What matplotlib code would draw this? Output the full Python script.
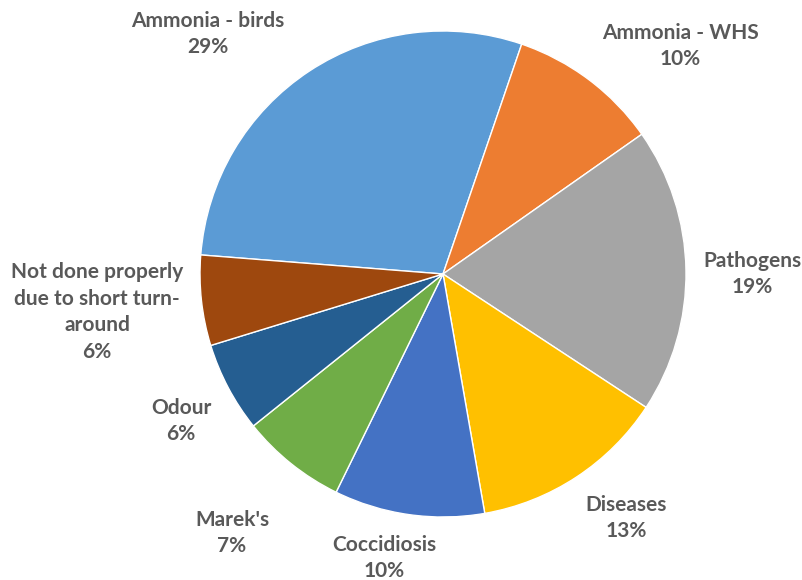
import matplotlib
matplotlib.use("Agg")
import matplotlib.pyplot as plt

categories = ["Ammonia - birds", "Ammonia - WHS", "Pathogens", "Diseases",
              "Coccidiosis", "Marek's", "Odour",
              "Not done properly due to short turn-around"]
values = [29, 10, 19, 13, 10, 7, 6, 6]
label_texts = ["Ammonia - birds", "Ammonia - WHS", "Pathogens", "Diseases",
               "Coccidiosis", "Marek's", "Odour",
               "Not done properly\ndue to short turn-\naround"]
colors = ["#5B9BD5", "#ED7D31", "#A5A5A5", "#FFC000",
          "#4472C4", "#70AD47", "#255E91", "#9E480E"]

# label centre positions (pixel layout)
label_pos = [(208, 34), (680, 46), (752, 274), (626, 518),
             (384, 558), (232, 533), (181, 421), (97, 312)]

W, H = 803, 580
fig = plt.figure(figsize=(W / 100, H / 100), dpi=100)
ax = fig.add_axes([0, 0, 1, 1])

total = sum(values)
ax.pie(values, colors=colors, startangle=184.5, counterclock=True,
       center=(443, 274), radius=243,
       wedgeprops=dict(edgecolor="white", linewidth=1.0))
ax.set_xlim(0, W)
ax.set_ylim(H, 0)
ax.set_aspect("equal")
ax.axis("off")

for txt, v, (x, y) in zip(label_texts, values, label_pos):
    pct = round(100 * v / total)
    ax.text(x, y, f"{txt}\n{pct}%", ha="center", va="center",
            fontsize=15, fontweight="bold", family=["Lato", "DejaVu Sans"],
            color="#595959", linespacing=1.43)

fig.savefig("out.png", dpi=100)
